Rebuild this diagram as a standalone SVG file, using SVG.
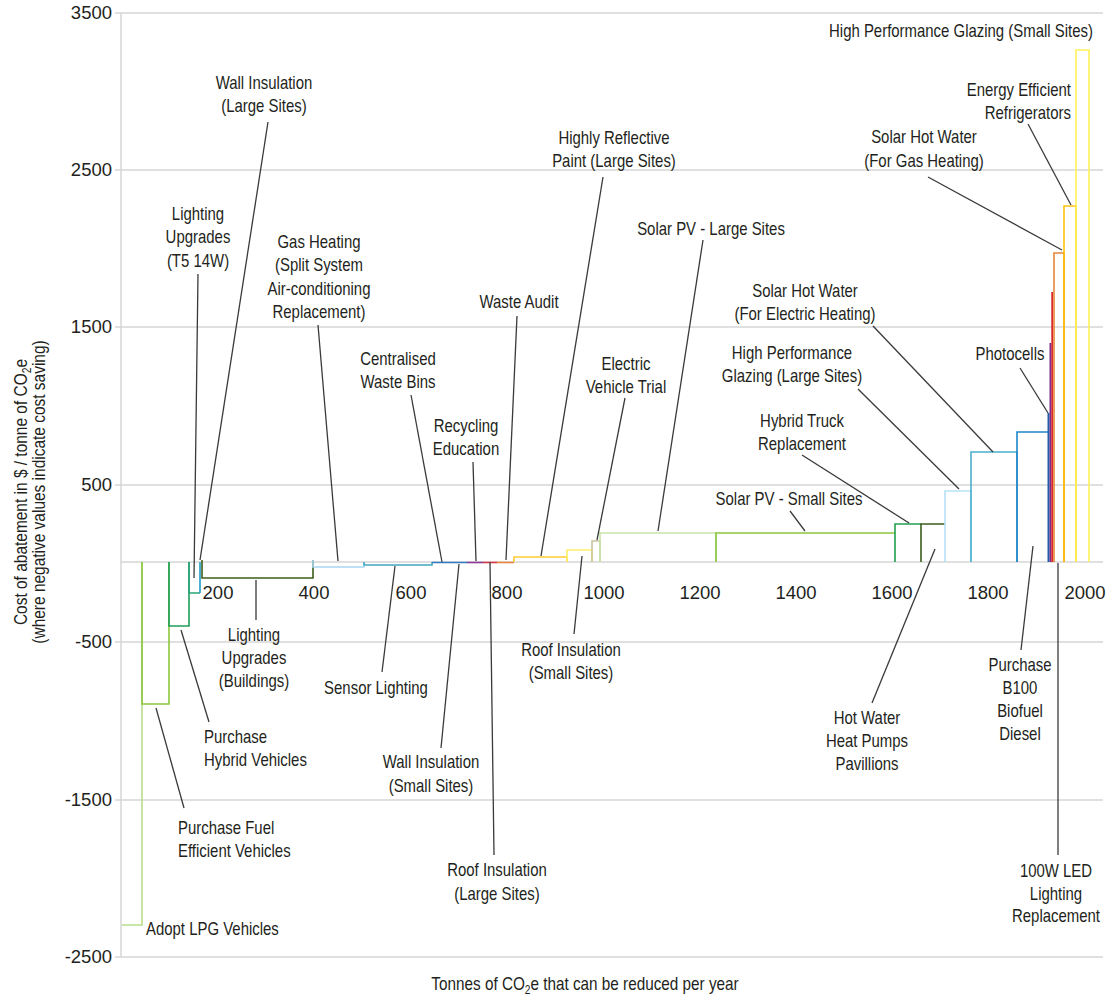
<svg xmlns="http://www.w3.org/2000/svg" width="1114" height="1000" viewBox="0 0 1114 1000">
<style>
.grid{stroke:#d6d6d6;stroke-width:1.5;fill:none}
.bar{fill:none;stroke-width:1.6}
.lead{stroke:#3a3a3a;stroke-width:1.3;fill:none}
.lbl{font-family:"Liberation Sans",Arial,sans-serif;font-size:18px;fill:#231f20}
.c{text-anchor:middle}
.r{text-anchor:end}
.tick{font-family:"Liberation Sans",Arial,sans-serif;font-size:18.5px;fill:#231f20}
</style>
<rect width="1114" height="1000" fill="#ffffff"/>
<g id="axes">
<path class="grid" d="M121 13V957M115 13H1103M115 170H1103M115 327H1103M115 485H1103M121 562H1103M115 642H1103M115 800H1103M115 957H1103"/>
<g class="tick r">
<text x="112" y="19">3500</text>
<text x="112" y="176">2500</text>
<text x="112" y="333">1500</text>
<text x="112" y="491">500</text>
<text x="112" y="648">-500</text>
<text x="112" y="806">-1500</text>
<text x="112" y="963">-2500</text>
</g>
<g class="tick c">
<text x="218" y="599">200</text>
<text x="314" y="599">400</text>
<text x="411" y="599">600</text>
<text x="507" y="599">800</text>
<text x="604" y="599">1000</text>
<text x="700" y="599">1200</text>
<text x="796" y="599">1400</text>
<text x="892" y="599">1600</text>
<text x="988" y="599">1800</text>
<text x="1085" y="599">2000</text>
</g>
<text class="lbl c" transform="translate(27 492) rotate(-90) scale(0.86 1)" font-size="17">Cost of abatement in $ / tonne of CO<tspan font-size="12" dy="4">2</tspan><tspan dy="-4">e</tspan></text>
<text class="lbl c" transform="translate(45 492) rotate(-90) scale(0.86 1)" font-size="17">(where negative values indicate cost saving)</text>
<text class="lbl c" transform="translate(585 990) scale(0.85 1)" font-size="17">Tonnes of CO<tspan font-size="12" dy="4">2</tspan><tspan dy="-4">e that can be reduced per year</tspan></text>
</g>
<g id="bars">
<path class="bar" stroke="#b8dd8a" d="M122 925H142V562"/>
<path class="bar" stroke="#8cc63f" d="M142 562V704H169V562"/>
<path class="bar" stroke="#1f9e5a" d="M169 562V626H189V562"/>
<path class="bar" stroke="#2aa57a" d="M189 562V593H200"/>
<path class="bar" stroke="#1e9cc4" d="M200 593V562"/>
<path class="bar" stroke="#3d5e1e" d="M202 560V578H313V560"/>
<path class="bar" stroke="#a8d8f0" d="M313 560V567H364V562"/>
<path class="bar" stroke="#41a7bd" d="M364 562V565H432V562"/>
<path class="bar" stroke="#2e7bbf" d="M432 562.5H467"/>
<path class="bar" stroke="#8b3a96" d="M467 562.5H483"/>
<path class="bar" stroke="#d93a49" d="M483 562.5H497"/>
<path class="bar" stroke="#e8853a" d="M497 562.5H514"/>
<path class="bar" stroke="#ffcc33" d="M514 562V557H567V562"/>
<path class="bar" stroke="#fff06a" d="M567 562V550H592V562"/>
<path class="bar" stroke="#c9c49b" d="M592 562V541H600V562"/>
<path class="bar" stroke="#c8e4a8" d="M600 562V533H716V562"/>
<path class="bar" stroke="#8cc63f" d="M716 562V533H895"/>
<path class="bar" stroke="#22a04f" d="M895 562V524H921"/>
<path class="bar" stroke="#3d5e1e" d="M921 562V524H945"/>
<path class="bar" stroke="#b5e2f7" d="M945 562V491H971V562"/>
<path class="bar" stroke="#4aafcc" d="M971 562V452H1017V562"/>
<path class="bar" stroke="#1f86c8" d="M1017 562V432H1048"/>
<rect x="1047.5" y="413" width="2" height="149" fill="#1f5fa8"/>
<rect x="1049.5" y="343" width="1.8" height="219" fill="#7b2d8e"/>
<rect x="1051.3" y="292" width="1.8" height="270" fill="#d7262c"/>
<path class="bar" stroke="#e8863a" d="M1054 562V253H1064V562"/>
<path class="bar" stroke="#ffc20e" d="M1064 562V206H1076V562"/>
<path class="bar" stroke="#fff25a" d="M1076 562V50H1089V562"/>
</g>
<g id="connectors">
<path class="lead" d="M268 122L200 560"/>
<path class="lead" d="M198 274L194 578"/>
<path class="lead" d="M318 325L338 561"/>
<path class="lead" d="M256 580V620"/>
<path class="lead" d="M181 630L209 722"/>
<path class="lead" d="M156 708L184 808"/>
<path class="lead" d="M411 395L442 562"/>
<path class="lead" d="M395 566L382 672"/>
<path class="lead" d="M473 462L476 561"/>
<path class="lead" d="M459 564L441 748"/>
<path class="lead" d="M517 316L506 560"/>
<path class="lead" d="M490 562L494 855"/>
<path class="lead" d="M603 177L541 556"/>
<path class="lead" d="M703 240L658 531"/>
<path class="lead" d="M625 398L597 540"/>
<path class="lead" d="M582 556L574 634"/>
<path class="lead" d="M790 511L805 531"/>
<path class="lead" d="M802 455L909 523"/>
<path class="lead" d="M935 549L872 703"/>
<path class="lead" d="M858 389L959 489"/>
<path class="lead" d="M873 326L993 452"/>
<path class="lead" d="M1020 368L1048 413"/>
<path class="lead" d="M928 177L1062 250"/>
<path class="lead" d="M1028 124L1071 205"/>
<path class="lead" d="M1033 546L1021 650"/>
<path class="lead" d="M1058 563V855"/>
</g>
<g id="labels" class="lbl" transform="scale(0.83 1)">
<g id="n-wall-large"><text class="c" x="318.07" y="89">Wall Insulation</text><text class="c" x="318.07" y="112">(Large Sites)</text></g>
<g id="n-light-t5"><text class="c" x="238.55" y="220">Lighting</text><text class="c" x="238.55" y="243.5">Upgrades</text><text class="c" x="238.55" y="267">(T5 14W)</text></g>
<g id="n-gas"><text class="c" x="384.34" y="248">Gas Heating</text><text class="c" x="384.34" y="271.5">(Split System</text><text class="c" x="384.34" y="295">Air-conditioning</text><text class="c" x="384.34" y="318">Replacement)</text></g>
<g id="n-waste-audit"><text class="c" x="625.3" y="308">Waste Audit</text></g>
<g id="n-paint"><text class="c" x="739.76" y="144">Highly Reflective</text><text class="c" x="739.76" y="167">Paint (Large Sites)</text></g>
<g id="n-pv-large"><text class="c" x="856.63" y="235">Solar PV - Large Sites</text></g>
<g id="n-ev"><text class="c" x="754.22" y="370">Electric</text><text class="c" x="754.22" y="393">Vehicle Trial</text></g>
<g id="n-bins"><text class="c" x="479.52" y="365">Centralised</text><text class="c" x="479.52" y="388">Waste Bins</text></g>
<g id="n-recycle"><text class="c" x="561.45" y="432">Recycling</text><text class="c" x="561.45" y="455">Education</text></g>
<g id="n-shw-gas"><text class="c" x="1113.25" y="143">Solar Hot Water</text><text class="c" x="1113.25" y="167">(For Gas Heating)</text></g>
<g id="n-fridge"><text class="r" x="1290.36" y="96">Energy Efficient</text><text class="r" x="1290.36" y="119">Refrigerators</text></g>
<g id="n-hpg-small"><text class="c" x="1157.83" y="37">High Performance Glazing (Small Sites)</text></g>
<g id="n-shw-elec"><text class="c" x="969.88" y="297">Solar Hot Water</text><text class="c" x="969.88" y="320">(For Electric Heating)</text></g>
<g id="n-hpg-large"><text class="c" x="954.22" y="359">High Performance</text><text class="c" x="954.22" y="382">Glazing (Large Sites)</text></g>
<g id="n-photo"><text class="c" x="1216.87" y="360">Photocells</text></g>
<g id="n-truck"><text class="c" x="966.27" y="427">Hybrid Truck</text><text class="c" x="966.27" y="450">Replacement</text></g>
<g id="n-pv-small"><text class="c" x="950.6" y="505">Solar PV - Small Sites</text></g>
<g id="n-light-bld"><text class="c" x="306.02" y="641">Lighting</text><text class="c" x="306.02" y="664">Upgrades</text><text class="c" x="306.02" y="687">(Buildings)</text></g>
<g id="n-sensor"><text class="c" x="453.01" y="694">Sensor Lighting</text></g>
<g id="n-wall-small"><text class="c" x="519.28" y="768">Wall Insulation</text><text class="c" x="519.28" y="792">(Small Sites)</text></g>
<g id="n-roof-large"><text class="c" x="598.8" y="876">Roof Insulation</text><text class="c" x="598.8" y="900">(Large Sites)</text></g>
<g id="n-roof-small"><text class="c" x="687.95" y="656">Roof Insulation</text><text class="c" x="687.95" y="679">(Small Sites)</text></g>
<g id="n-hybrid"><text x="245.78" y="743">Purchase</text><text x="245.78" y="766">Hybrid Vehicles</text></g>
<g id="n-fuel"><text x="214.46" y="834">Purchase Fuel</text><text x="214.46" y="857">Efficient Vehicles</text></g>
<g id="n-lpg"><text x="175.9" y="935">Adopt LPG Vehicles</text></g>
<g id="n-heatpump"><text class="c" x="1044.58" y="724">Hot Water</text><text class="c" x="1044.58" y="747">Heat Pumps</text><text class="c" x="1044.58" y="770">Pavillions</text></g>
<g id="n-biofuel"><text class="c" x="1228.92" y="671">Purchase</text><text class="c" x="1228.92" y="694">B100</text><text class="c" x="1228.92" y="717">Biofuel</text><text class="c" x="1228.92" y="740">Diesel</text></g>
<g id="n-led"><text class="c" x="1272.29" y="877">100W LED</text><text class="c" x="1272.29" y="900">Lighting</text><text class="c" x="1272.29" y="922">Replacement</text></g>
</g>
</svg>
